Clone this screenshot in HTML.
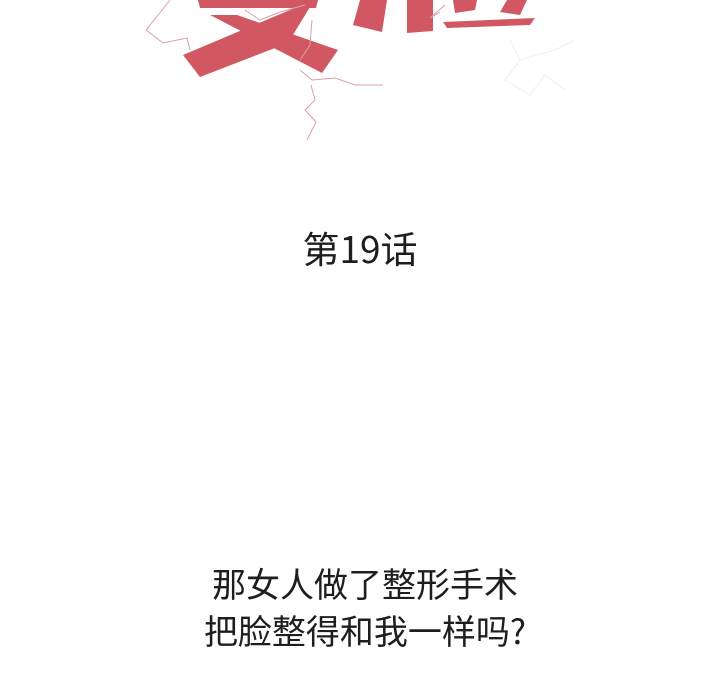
<!DOCTYPE html>
<html><head><meta charset="utf-8"><style>
html,body{margin:0;padding:0;background:#fff;width:720px;height:700px;overflow:hidden}
.t{position:absolute;left:0;width:720px;text-align:center;color:#1e1e1e;font-family:"Noto Sans CJK SC","Liberation Sans",sans-serif;line-height:1;white-space:nowrap}
</style></head><body>
<svg width="720" height="160" style="position:absolute;left:0;top:0">
<g fill="#d15862">
<polygon points="198,0 318,0 316,8 200,8"/>
<polygon points="210,15 237,15 338,50 322,73"/>
<polygon points="313,2 297,7 183,55 200,77 288,43"/>
<polygon points="360,0 387,0 382,32 353,25"/>
<polygon points="407,0 433,0 433,31 407,33"/>
<polygon points="453,0 477,0 475,10 455,13"/>
<polygon points="507,0 527,0 520,15 500,12"/>
<polygon points="443,22 535,18 530,25 447,28"/>
</g>
<g fill="none" stroke="#d9a0a8" stroke-width="1">
<polyline points="170,0 146,30 163,43 187,38 190,50"/>
<polyline points="245,10 260,20 280,12 305,5"/>
<polyline points="312,20 310,45 300,60"/>
<polyline points="300,70 312,80 335,78 355,85 383,85"/>
<polyline points="311,85 315,100 305,110 316,122 307,140"/>
<polyline points="440,12 430,18 445,5"/>
</g>
<g fill="none" stroke="#eee" stroke-width="1">
<polyline points="510,40 520,60 505,80 530,95 545,75 565,90"/>
<polyline points="520,60 555,50 575,40"/>
</g>
</svg>
<div class="t" style="top:229px;font-size:37px">第19话</div>
<div class="t" style="top:566px;left:5px;font-size:34px">那女人做了整形手术</div>
<div class="t" style="top:613px;left:5px;font-size:34px">把脸整得和我一样吗?</div>
</body></html>
